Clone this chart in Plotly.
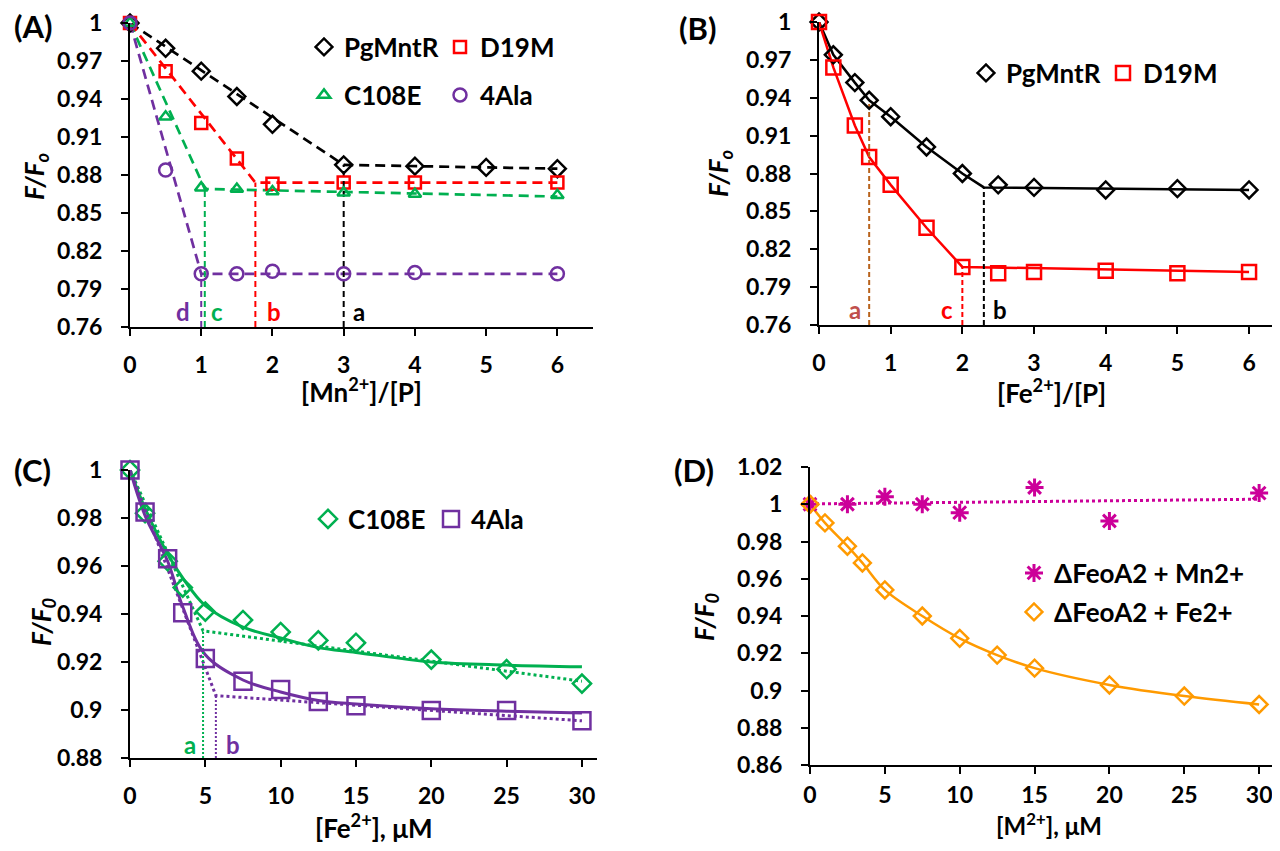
import plotly.graph_objects as go

# ---------------- Panel A : [Mn2+]/[P] ----------------
A_pg_x = [0, 0.5, 1, 1.5, 2, 3, 4, 5, 6]
A_pg_y = [1.000, 0.980, 0.962, 0.942, 0.920, 0.888, 0.887, 0.886, 0.885]
A_d19_x = [0, 0.5, 1, 1.5, 2, 3, 4, 6]
A_d19_y = [1.000, 0.962, 0.921, 0.893, 0.873, 0.874, 0.874, 0.874]
A_c108_x = [0, 0.5, 1, 1.5, 2, 3, 4, 6]
A_c108_y = [1.000, 0.926, 0.870, 0.869, 0.867, 0.866, 0.865, 0.864]
A_ala_x = [0, 0.5, 1, 1.5, 2, 3, 4, 6]
A_ala_y = [1.000, 0.884, 0.802, 0.802, 0.804, 0.802, 0.803, 0.802]
# break-point fit lines (start, break, end)
A_pg_fit_x = [0, 3.0, 6]
A_pg_fit_y = [1.000, 0.888, 0.885]
A_d19_fit_x = [0, 1.76, 6]
A_d19_fit_y = [1.000, 0.874, 0.874]
A_c108_fit_x = [0, 1.05, 6]
A_c108_fit_y = [1.000, 0.869, 0.863]
A_ala_fit_x = [0, 1.0, 6]
A_ala_fit_y = [1.000, 0.802, 0.802]
A_labels = ["a", "b", "c", "d"]
A_label_x = [3.22, 2.02, 1.22, 0.74]

# ---------------- Panel B : [Fe2+]/[P] ----------------
B_x = [0, 0.2, 0.5, 0.7, 1, 1.5, 2, 2.5, 3, 4, 5, 6]
B_pg_y = [1.000, 0.974, 0.952, 0.938, 0.925, 0.901, 0.880, 0.871, 0.869, 0.867, 0.868, 0.867]
B_d19_y = [1.000, 0.964, 0.918, 0.893, 0.871, 0.837, 0.806, 0.801, 0.802, 0.803, 0.801, 0.802]
B_pg_fit_x = [0, 0.2, 0.5, 0.7, 1, 1.5, 2, 2.3, 6]
B_pg_fit_y = [1.000, 0.974, 0.952, 0.938, 0.925, 0.901, 0.880, 0.869, 0.867]
B_d19_fit_x = [0, 0.2, 0.5, 0.7, 1, 1.5, 2, 6]
B_d19_fit_y = [1.000, 0.964, 0.918, 0.893, 0.871, 0.837, 0.806, 0.802]
B_break_x = [0.7, 2.0, 2.3]
B_break_top = [0.936, 0.806, 0.869]
B_labels = ["a", "c", "b"]
B_label_x = [0.50, 1.78, 2.52]

# ---------------- Panel C : [Fe2+], uM ----------------
C_x = [0, 1, 2.5, 3.5, 5, 7.5, 10, 12.5, 15, 20, 25, 30]
C_c108_y = [1.000, 0.982, 0.962, 0.951, 0.941, 0.9375, 0.9325, 0.929, 0.928, 0.921, 0.917, 0.911]
C_ala_y = [1.000, 0.9825, 0.963, 0.9405, 0.9215, 0.912, 0.9085, 0.9035, 0.9018, 0.8998, 0.8998, 0.8955]
C_c108_curve = [1.000, 0.984, 0.965, 0.955, 0.9435, 0.9345, 0.930, 0.926, 0.924, 0.920, 0.9187, 0.918]
C_ala_curve = [1.000, 0.981, 0.962, 0.943, 0.923, 0.9125, 0.9075, 0.904, 0.9025, 0.9005, 0.8995, 0.8988]
C_c108_dot_x = [0, 4.85, 30]
C_c108_dot_y = [1.000, 0.933, 0.912]
C_ala_dot_x = [0, 5.7, 30]
C_ala_dot_y = [1.000, 0.906, 0.8955]
C_labels = ["a", "b"]
C_label_x = [3.95, 6.85]

# ---------------- Panel D : [M2+], uM ----------------
D_mn_x = [0, 2.5, 5, 7.5, 10, 15, 20, 30]
D_mn_y = [1.000, 1.000, 1.004, 1.000, 0.9955, 1.009, 0.991, 1.006]
D_mn_trend_x = [0, 30]
D_mn_trend_y = [1.0002, 1.0027]
D_fe_x = [0, 1, 2.5, 3.5, 5, 7.5, 10, 12.5, 15, 20, 25, 30]
D_fe_y = [1.000, 0.990, 0.9775, 0.9685, 0.954, 0.940, 0.928, 0.919, 0.912, 0.903, 0.897, 0.8925]

# ---------------- tick labels ----------------
AB_yticks = [0.76, 0.79, 0.82, 0.85, 0.88, 0.91, 0.94, 0.97, 1.0]
AB_yticklabels = ["0.76", "0.79", "0.82", "0.85", "0.88", "0.91", "0.94", "0.97", "1"]
AB_xticks = [0, 1, 2, 3, 4, 5, 6]
C_yticks = [0.88, 0.90, 0.92, 0.94, 0.96, 0.98, 1.0]
C_yticklabels = ["0.88", "0.9", "0.92", "0.94", "0.96", "0.98", "1"]
CD_xticks = [0, 5, 10, 15, 20, 25, 30]
D_yticks = [0.86, 0.88, 0.90, 0.92, 0.94, 0.96, 0.98, 1.0, 1.02]
D_yticklabels = ["0.86", "0.88", "0.9", "0.92", "0.94", "0.96", "0.98", "1", "1.02"]

FONT = "Lato"
BLACK = "#000000"
RED = "#FF0000"
GREEN = "#00B050"
PURPLE = "#7030A0"
BROWN = "#B8621B"
ROSE = "#C0504D"
ORANGE = "#FF9A00"
MAGENTA = "#CC0099"

fig = go.Figure()


def line(x, y, color, xa, ya, dash="solid", width=2.5, shape="linear"):
    fig.add_trace(go.Scatter(x=x, y=y, mode="lines", xaxis=xa, yaxis=ya,
                             line=dict(color=color, width=width, dash=dash, shape=shape),
                             showlegend=False, hoverinfo="skip", cliponaxis=False))


def marks(x, y, name, color, symbol, size, xa, ya, legend, lw=2.5):
    fig.add_trace(go.Scatter(x=x, y=y, mode="markers", name=name, xaxis=xa, yaxis=ya,
                             marker=dict(symbol=symbol, size=size, color=color,
                                         line=dict(color=color, width=lw)),
                             legend=legend, cliponaxis=False))


# ---- Panel A ----
DASH_A = "10px,6px"
line(A_pg_fit_x, A_pg_fit_y, BLACK, "x", "y", DASH_A, 2.7)
line(A_d19_fit_x, A_d19_fit_y, RED, "x", "y", DASH_A, 2.7)
line(A_c108_fit_x, A_c108_fit_y, GREEN, "x", "y", DASH_A, 2.7)
line(A_ala_fit_x, A_ala_fit_y, PURPLE, "x", "y", DASH_A, 2.7)
A_break_colors = [BLACK, RED, GREEN, PURPLE]
A_break_x = [A_pg_fit_x[1], A_d19_fit_x[1], A_c108_fit_x[1], A_ala_fit_x[1]]
A_break_top = [A_pg_fit_y[1], A_d19_fit_y[1], A_c108_fit_y[1], A_ala_fit_y[1]]
for bx, bt, c in zip(A_break_x, A_break_top, A_break_colors):
    line([bx, bx], [AB_yticks[0], bt], c, "x", "y", "6px,4px", 2)
marks(A_pg_x, A_pg_y, "PgMntR", BLACK, "diamond-open", 13, "x", "y", "legend")
marks(A_d19_x, A_d19_y, "D19M", RED, "square-open", 12, "x", "y", "legend")
marks(A_c108_x, A_c108_y, "C108E", GREEN, "triangle-up-open", 11, "x", "y", "legend2")
marks(A_ala_x, A_ala_y, "4Ala", PURPLE, "circle-open", 13, "x", "y", "legend2")

# ---- Panel B ----
line(B_pg_fit_x, B_pg_fit_y, BLACK, "x2", "y2", "solid", 2.5)
line(B_d19_fit_x, B_d19_fit_y, RED, "x2", "y2", "solid", 2.5)
for bx, bt, c in zip(B_break_x, B_break_top, [BROWN, RED, BLACK]):
    line([bx, bx], [AB_yticks[0], bt], c, "x2", "y2", "5px,3px", 2)
marks(B_x, B_pg_y, "PgMntR", BLACK, "diamond-open", 13, "x2", "y2", "legend3")
marks(B_x, B_d19_y, "D19M", RED, "square-open", 14, "x2", "y2", "legend3")

# ---- Panel C ----
line(C_x, C_c108_curve, GREEN, "x3", "y3", "solid", 3, "spline")
line(C_x, C_ala_curve, PURPLE, "x3", "y3", "solid", 3, "spline")
line(C_c108_dot_x, C_c108_dot_y, GREEN, "x3", "y3", "3px,3px", 3)
line(C_ala_dot_x, C_ala_dot_y, PURPLE, "x3", "y3", "3px,3px", 3)
line([C_c108_dot_x[1]] * 2, [C_yticks[0], C_c108_dot_y[1]], GREEN, "x3", "y3", "2px,2px", 2)
line([C_ala_dot_x[1]] * 2, [C_yticks[0], C_ala_dot_y[1]], PURPLE, "x3", "y3", "2px,2px", 2)
marks(C_x, C_c108_y, "C108E", GREEN, "diamond-open", 14, "x3", "y3", "legend4")
marks(C_x, C_ala_y, "4Ala", PURPLE, "square-open", 17, "x3", "y3", "legend4")

# ---- Panel D ----
line(D_mn_trend_x, D_mn_trend_y, MAGENTA, "x4", "y4", "3px,3px", 3)
line(D_fe_x, D_fe_y, ORANGE, "x4", "y4", "solid", 2.5, "spline")
marks(D_mn_x, D_mn_y, "\u0394FeoA2 + Mn2+", MAGENTA, "asterisk-open", 15, "x4", "y4", "legend5", 3)
marks(D_fe_x, D_fe_y, "\u0394FeoA2 + Fe2+", ORANGE, "diamond-open", 13, "x4", "y4", "legend6")

# page body has an 8px margin: figure is sized to fit inside the window
OFF = 8
W, H = 1280 - 2 * OFF, 851 - 2 * OFF


def px_x(p):
    return min(max((p - OFF) / W, 0.0), 1.0)


def px_y(p):
    return min(max(1 - (p - OFF) / H, 0.0), 1.0)


tickfont = dict(family=FONT, size=23, color=BLACK, weight="bold")


def xaxis(dom, rng, ticks, anchor, standoff=9):
    return dict(domain=dom, range=rng, tickvals=ticks, ticktext=[str(t) for t in ticks],
                showline=True, linecolor=BLACK, linewidth=2, ticks="outside", ticklen=7,
                tickwidth=2, tickcolor=BLACK, showgrid=False, zeroline=False,
                tickfont=tickfont, anchor=anchor, ticklabelstandoff=standoff,
                automargin=False, ticklabeloverflow="allow")


def yaxis(dom, rng, ticks, labels, anchor):
    return dict(domain=dom, range=rng, tickvals=ticks, ticktext=labels,
                showline=True, linecolor=BLACK, linewidth=2, ticks="outside", ticklen=7,
                tickwidth=2, tickcolor=BLACK, showgrid=False, zeroline=False,
                tickfont=tickfont, anchor=anchor, ticklabelstandoff=14, automargin=False,
                ticklabeloverflow="allow")


legfont = dict(family=FONT, size=26, color=BLACK, weight="bold")


def legend(xp, yp, entry):
    return dict(x=px_x(xp), y=px_y(yp), xanchor="left", yanchor="middle",
                orientation="h", font=legfont, bgcolor="rgba(0,0,0,0)",
                entrywidth=entry, itemsizing="trace", traceorder="normal")


layout = dict(
    width=W, height=H, margin=dict(l=0, r=0, t=0, b=0, autoexpand=False),
    paper_bgcolor="white", plot_bgcolor="white",
    xaxis=xaxis([px_x(130), px_x(593)], [0, 6.5], AB_xticks, "y"),
    yaxis=yaxis([px_y(327), px_y(23)], [0.76, 1.0], AB_yticks, AB_yticklabels, "x"),
    xaxis2=xaxis([px_x(819), px_x(1272)], [0, 6.32], AB_xticks, "y2"),
    yaxis2=yaxis([px_y(325), px_y(22)], [0.76, 1.0], AB_yticks, AB_yticklabels, "x2"),
    xaxis3=xaxis([px_x(130), px_x(597)], [0, 31], CD_xticks, "y3"),
    yaxis3=yaxis([px_y(758), px_y(470)], [0.88, 1.0], C_yticks, C_yticklabels, "x3"),
    xaxis4=xaxis([px_x(810), px_x(1272)], [0, 30.86], CD_xticks, "y4", 1),
    yaxis4=yaxis([px_y(765), px_y(467)], [0.86, 1.02], D_yticks, D_yticklabels, "x4"),
    legend=legend(304, 47, 91),
    legend2=legend(304, 95, 91),
    legend3=legend(966, 73, 92),
    legend4=legend(308, 519, 78),
    legend5=legend(1014, 573, 250),
    legend6=legend(1014, 612, 250),
)
fig.update_layout(**layout)

ann = []


def text(x, y, s, size=23, color=BLACK, xref="paper", yref="paper", angle=0, italic=False):
    ann.append(dict(x=x, y=y, xref=xref, yref=yref, text=s, showarrow=False,
                    textangle=angle, xanchor="center", yanchor="middle",
                    font=dict(family=FONT, size=size, color=color, weight="bold",
                              style="italic" if italic else "normal")))


# panel labels
text(px_x(33), px_y(26), "(A)", 31)
text(px_x(697), px_y(28), "(B)", 31)
text(px_x(32), px_y(470), "(C)", 31)
text(px_x(694), px_y(470), "(D)", 31)
# axis titles
text(px_x(361), px_y(390), "[Mn<sup>2+</sup>]/[P]", 26)
text(px_x(1051), px_y(392), "[Fe<sup>2+</sup>]/[P]", 26)
text(px_x(374), px_y(826), "[Fe<sup>2+</sup>], \u03bcM", 26)
text(px_x(1049), px_y(824), "[M<sup>2+</sup>], \u03bcM", 24)
text(px_x(35), px_y(177), "F/F<sub>o</sub>", 26, angle=-90, italic=True)
text(px_x(719), px_y(174), "F/F<sub>o</sub>", 26, angle=-90, italic=True)
text(px_x(42), px_y(622), "F/F<sub>0</sub>", 26, angle=-90, italic=True)
text(px_x(705), px_y(617), "F/F<sub>0</sub>", 26, angle=-90, italic=True)
# break-point letters
for s, x, c in zip(A_labels, A_label_x, [BLACK, RED, GREEN, PURPLE]):
    text(x, 0.772, s, 24, c, "x", "y")
for s, x, c in zip(B_labels, B_label_x, [ROSE, RED, BLACK]):
    text(x, 0.7725, s, 24, c, "x2", "y2")
for s, x, c in zip(C_labels, C_label_x, [GREEN, PURPLE]):
    text(x, 0.8855, s, 24, c, "x3", "y3")

fig.update_layout(annotations=ann)
fig.write_html("out.html")
